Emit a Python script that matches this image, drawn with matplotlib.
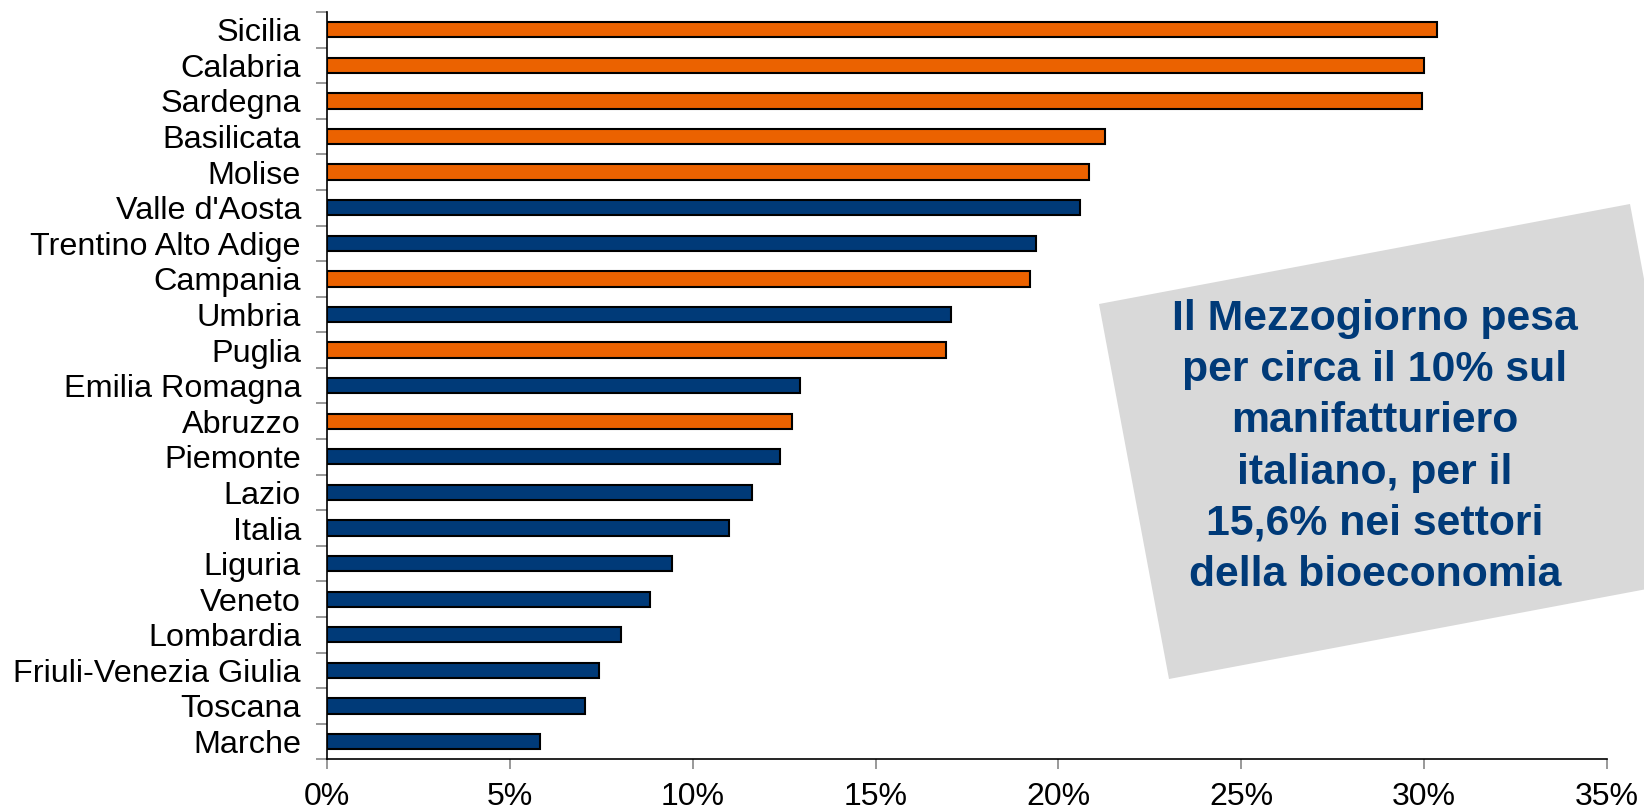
import matplotlib
matplotlib.use("Agg")
import matplotlib.pyplot as plt
from matplotlib.patches import Polygon
from matplotlib.ticker import FuncFormatter
import numpy as np

# data (share in %)
regions = ["Sicilia", "Calabria", "Sardegna", "Basilicata", "Molise",
           "Valle d'Aosta", "Trentino Alto Adige", "Campania", "Umbria",
           "Puglia", "Emilia Romagna", "Abruzzo", "Piemonte", "Lazio",
           "Italia", "Liguria", "Veneto", "Lombardia",
           "Friuli-Venezia Giulia", "Toscana", "Marche"]
values = [30.35, 30.0, 29.94, 21.28, 20.84, 20.59, 19.38, 19.22, 17.05,
          16.93, 12.94, 12.72, 12.39, 11.63, 10.98, 9.43, 8.83, 8.03,
          7.44, 7.05, 5.83]
mezzogiorno = ["Sicilia", "Calabria", "Sardegna", "Basilicata", "Molise",
               "Campania", "Puglia", "Abruzzo"]
xticks = [0, 5, 10, 15, 20, 25, 30, 35]
note = ("Il Mezzogiorno pesa\nper circa il 10% sul\nmanifatturiero\n"
        "italiano, per il\n15,6% nei settori\ndella bioeconomia")

ORANGE = "#EB6200"
NAVY = "#003A78"

plt.rcParams["font.family"] = ["Liberation Sans", "DejaVu Sans"]

fig = plt.figure(figsize=(16.44, 8.11), dpi=100)
ax = fig.add_axes([0.1991, 0.0637, 0.7782, 0.9215])

# callout box behind the axes (figure pixel coords)
W, H = 1644, 811
box = [(1099, 304), (1630, 204), (1700, 579), (1169, 679)]
poly = Polygon([(x / W, 1 - y / H) for x, y in box], closed=True,
               transform=fig.transFigure, facecolor="#D9D9D9",
               edgecolor="none", zorder=0)
fig.patches.append(poly)
ax.patch.set_alpha(0)

pos = np.arange(len(regions))
colors = [ORANGE if r in mezzogiorno else NAVY for r in regions]
ax.barh(pos, values, height=0.43, color=colors, edgecolor="black",
        linewidth=1.5, zorder=3)

ax.set_ylim(len(regions) - 0.5, -0.5)
ax.set_xlim(0, 35)

ax.set_yticks(pos)
ax.set_yticklabels(regions, fontsize=23.3)
ax.set_yticks(np.arange(len(regions) + 1) - 0.5, minor=True)
ax.tick_params(axis="y", which="major", length=0, pad=19)
ax.tick_params(axis="y", which="minor", length=8, color="#888888",
               width=1.2)

ax.set_xticks(xticks)
ax.xaxis.set_major_formatter(FuncFormatter(lambda v, p: f"{v:.0f}%"))
ax.tick_params(axis="x", length=7, color="#888888", width=1.2, pad=9,
               labelsize=23)

for s in ["top", "right"]:
    ax.spines[s].set_visible(False)
for s in ["left", "bottom"]:
    ax.spines[s].set_color("black")
    ax.spines[s].set_linewidth(1.2)

fig.text(1375 / W, 1 - 447 / H, note, ha="center", va="center",
         fontsize=30.8, fontweight="bold", color=NAVY, linespacing=1.36,
         zorder=5)

fig.savefig("out.png", dpi=100)
